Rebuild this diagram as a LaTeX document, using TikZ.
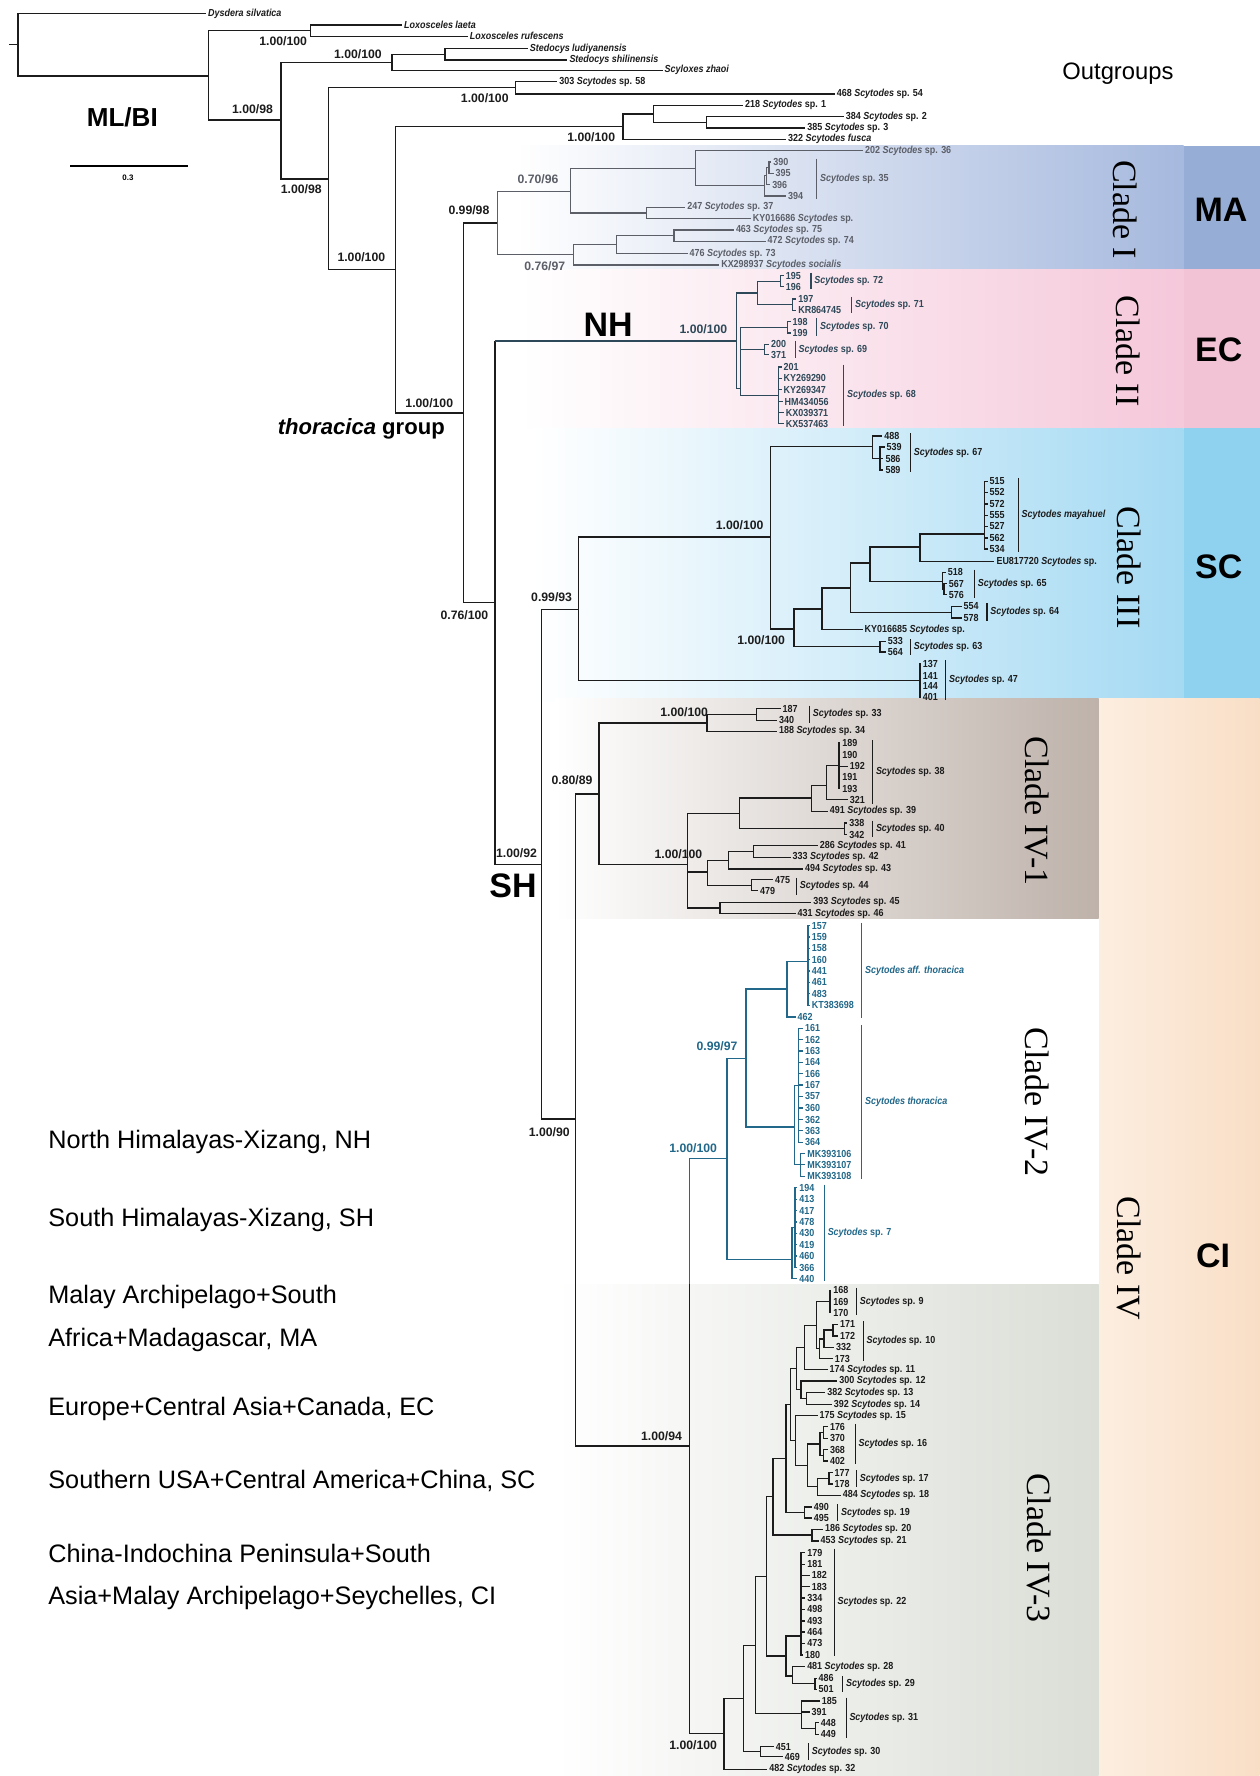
\documentclass[tikz,border=0pt]{standalone}
\usepackage{fontspec}
\setmainfont{Liberation Sans}
\newfontfamily\serifc{Liberation Serif}
\newfontfamily\condf[FakeStretch=0.88]{Liberation Sans}
\definecolor{gc}{RGB}{92,95,104}
\definecolor{sl}{RGB}{45,72,88}
\definecolor{tl}{RGB}{34,104,138}
\definecolor{bk}{RGB}{28,28,28}
\definecolor{maR}{RGB}{166,185,222}
\definecolor{maS}{RGB}{150,174,214}
\definecolor{ecR}{RGB}{245,200,218}
\definecolor{ecS}{RGB}{242,194,213}
\definecolor{scR}{RGB}{165,218,243}
\definecolor{scS}{RGB}{142,210,240}
\definecolor{ciL}{RGB}{252,238,224}
\definecolor{ciR}{RGB}{249,222,198}
\definecolor{ivA}{RGB}{190,178,170}
\definecolor{ivC}{RGB}{218,222,214}
\newcommand\Scy{\textit{Scytodes}}
\newcommand\LF[5]{\node[lf] (#1) at (#3,#4) {#5}; \draw (#2) |- (#1.west);}
\newcommand\BR[5]{\draw[brk] (#2,#3) coordinate (#1a) -- (#2,#4) coordinate (#1b) node[midway,spl] (#1) {#5};}
\tikzset{
 tln/.style={line width=1.25pt},
 lf/.style={anchor=west, inner xsep=1.8pt, inner ysep=0pt, outer sep=0pt, font=\condf\bfseries\fontsize{9}{9}\selectfont},
 spl/.style={anchor=west, inner xsep=3pt, inner ysep=0pt, outer sep=0pt, font=\condf\bfseries\fontsize{9}{9}\selectfont},
 brk/.style={line width=0.9pt},
 sup/.style={inner sep=0pt, font=\bfseries\fontsize{10.8}{11}\selectfont},
 bigl/.style={font=\bfseries\fontsize{30}{30}\selectfont},
 cladel/.style={font=\serifc\fontsize{30}{30}\selectfont, rotate=-90},
 legt/.style={anchor=west, inner sep=0pt, font=\fontsize{22.3}{24}\selectfont},
}
\begin{document}
\begin{tikzpicture}[x=1pt,y=-1pt]
\useasboundingbox (0,0) rectangle (1112,1568);
\fill[white] (0,0) rectangle (1112,1568);
% ---------- background bands
\shade[left color=white, right color=maR] (455,128.6) rectangle (1045,237.7);
\fill[maS] (1045,128.6) rectangle (1112,237.7);
\shade[left color=white, right color=ecR] (460,237.7) rectangle (1045,378);
\fill[ecS] (1045,237.7) rectangle (1112,378);
\shade[left color=white, right color=scR] (470,378) rectangle (1045,619);
\fill[scS] (1045,378) rectangle (1112,619);
\shade[left color=ciL, right color=ciR] (970,617) rectangle (1112,1568);
\shade[left color=white, right color=ivA] (490,616.3) rectangle (970,811.3);
\fill[white] (529,811.3) rectangle (970,1134);
\shade[left color=white, right color=ivC] (490,1134) rectangle (970,1568);
% ---------- right labels
\node[font=\fontsize{21}{21}\selectfont] (og) at (987,65) {Outgroups};
\node[cladel] (cI) at (993,185) {Clade I};
\node[bigl] (ma) at (1078,185) {MA};
\node[cladel] (cII) at (996,310) {Clade II};
\node[bigl] (ec) at (1076,309) {EC};
\node[cladel] (cIII) at (997,501) {Clade III};
\node[bigl] (sc) at (1076,500) {SC};
\node[cladel] (cIV1) at (916,716) {Clade IV-1};
\node[cladel] (cIV2) at (916,973) {Clade IV-2};
\node[cladel] (cIV) at (997,1111) {Clade IV};
\node[bigl] (ci) at (1071,1109) {CI};
\node[cladel] (cIV3) at (917,1367) {Clade IV-3};
% ---------- left labels
\node[font=\bfseries\fontsize{23}{23}\selectfont] (mlbi) at (108,104) {ML/BI};
\draw[line width=1.2pt] (62,146.5) coordinate (sb1) -- (165.7,146.5) coordinate (sb2);
\node[font=\bfseries\fontsize{7}{7}\selectfont] (sbt) at (113,157) {0.3};
\node[font=\bfseries\fontsize{19.5}{20}\selectfont] (thg) at (319,379) {\textit{thoracica} group};
\node[bigl] (nh) at (537,287) {NH};
\node[bigl] (sh) at (453,782) {SH};
\node[legt] (g1) at (42.5,1008.4) {North Himalayas-Xizang, NH};
\node[legt] (g2) at (42.5,1077.3) {South Himalayas-Xizang, SH};
\node[legt] (g3) at (42.5,1145) {Malay Archipelago+South};
\node[legt] (g4) at (42.5,1183.2) {Africa+Madagascar, MA};
\node[legt] (g5) at (42.5,1243.8) {Europe+Central Asia+Canada, EC};
\node[legt] (g6) at (42.5,1307.6) {Southern USA+Central America+China, SC};
\node[legt] (g7) at (42.5,1371.4) {China-Indochina Peninsula+South};
\node[legt] (g8) at (42.5,1410.6) {Asia+Malay Archipelago+Seychelles, CI};
% ---------- tree: outgroups and backbone
\begin{scope}[tln, color=bk]
\coordinate (R0) at (8,39.5);
\coordinate (R) at (16,39.5);
\draw (R0) -- (R);
\LF{dys}{R}{182}{12}{\textit{Dysdera silvatica}}
\coordinate (N1) at (184,67); \draw (R) |- (N1);
\coordinate (Lox) at (274,27); \draw (N1) |- (Lox);
\LF{llae}{Lox}{355}{22}{\textit{Loxosceles laeta}}
\LF{lruf}{Lox}{413}{32}{\textit{Loxosceles rufescens}}
\coordinate (N2) at (248,106); \draw (N1) |- (N2);
\coordinate (Sted) at (346,55); \draw (N2) |- (Sted);
\coordinate (Sted2) at (393,48); \draw (Sted) |- (Sted2);
\LF{slud}{Sted2}{466}{43}{\textit{Stedocys ludiyanensis}}
\LF{sshi}{Sted2}{501}{53}{\textit{Stedocys shilinensis}}
\LF{szha}{Sted}{585}{62}{\textit{Scyloxes zhaoi}}
\coordinate (N3) at (290,158); \draw (N2) |- (N3);
\coordinate (N4) at (455,77.5); \draw (N3) |- (N4);
\LF{l303}{N4}{492}{72}{303 \Scy{} sp. 58}
\LF{l468}{N4}{737}{83}{468 \Scy{} sp. 54}
\coordinate (N5) at (349,238); \draw (N3) |- (N5);
\coordinate (N6) at (550,111.5); \draw (N5) |- (N6);
\coordinate (N7) at (577,100.5); \draw (N6) |- (N7);
\LF{l218}{N7}{656}{93}{218 \Scy{} sp. 1}
\coordinate (N8) at (624,108); \draw (N7) |- (N8);
\LF{l384}{N8}{745}{103}{384 \Scy{} sp. 2}
\LF{l385}{N8}{711}{113}{385 \Scy{} sp. 3}
\LF{l322}{N6}{694}{123}{322 \textit{Scytodes fusca}}
\coordinate (THOR) at (409,364.5); \draw (N5) |- (THOR);
\coordinate (C1) at (439,197); \draw (THOR) |- (C1);
\coordinate (N9) at (437,532); \draw (THOR) |- (N9);
\coordinate (NHc) at (437,301); \draw (N9) -- (NHc);
\coordinate (SHn) at (478,763); \draw (N9) |- (SHn);
% supports
\node[sup] (s1) at (250,36) {1.00/100};
\node[sup] (s2) at (223,96) {1.00/98};
\node[sup] (s3) at (316,48) {1.00/100};
\node[sup] (s4) at (266,167) {1.00/98};
\node[sup] (s5) at (428,87) {1.00/100};
\node[sup] (s6) at (319,227) {1.00/100};
\node[sup] (s7) at (522,121) {1.00/100};
\node[sup] (s8) at (379,356) {1.00/100};
\node[sup] (s9) at (414,186) {0.99/98};
\node[sup] (s12) at (410,543) {0.76/100};
\node[sup] (s14) at (487,527) {0.99/93};
\node[sup] (s15) at (653,464) {1.00/100};
\node[sup] (s16) at (672,565) {1.00/100};
\node[sup] (s17) at (456,753) {1.00/92};
\node[sup] (s18) at (505,689) {0.80/89};
\node[sup] (s19) at (604,629) {1.00/100};
\node[sup] (s20) at (599,754) {1.00/100};
\node[sup] (s21) at (485,1000) {1.00/90};
\node[sup] (s22) at (584,1268) {1.00/94};
\node[sup] (s25) at (612,1541) {1.00/100};
% ---------- Clade III
\coordinate (C3) at (510.5,538); \draw (SHn) |- (C3);
\coordinate (C3a) at (680.4,474); \draw (C3) |- (C3a);
\coordinate (s67) at (770.4,394); \draw (C3a) |- (s67);
\LF{l488}{s67}{779}{384.8}{488}
\coordinate (s67b) at (777,405); \draw (s67) |- (s67b);
\LF{l539}{s67b}{781}{394.8}{539}
\LF{l586}{s67b}{780}{404.8}{586}
\LF{l589}{s67b}{780}{414.8}{589}
\BR{b67}{803.8}{382.4}{416.8}{\Scy{} sp. 67}
\coordinate (C3b) at (701,555.4); \draw (C3a) |- (C3b);
\coordinate (C3c) at (725.6,537.5); \draw (C3b) |- (C3c);
\coordinate (C3d) at (750.7,519.2); \draw (C3c) |- (C3d);
\coordinate (C3e) at (768.2,497.2); \draw (C3d) |- (C3e);
\coordinate (C3f) at (812.1,483); \draw (C3e) |- (C3f);
\coordinate (may) at (869.2,471.3); \draw (C3f) |- (may);
\foreach \n/\yy in {515/425,552/434.8,572/444.8,555/455.1,527/464.8,562/475.1,534/484.8}
  {\LF{m\n}{may}{872}{\yy}{\n}}
\BR{bmay}{899}{422}{487.7}{\textit{Scytodes mayahuel}}
\LF{leu}{C3f}{878}{495.7}{EU817720 \Scy{} sp.}
\coordinate (s65) at (831.9,513.3); \draw (C3e) |- (s65);
\LF{l518}{s65}{835}{505.4}{518}
\coordinate (s65b) at (833.5,520.3); \draw (s65) |- (s65b);
\LF{l567}{s65b}{836}{515.4}{567}
\LF{l576}{s65b}{836}{525.1}{576}
\BR{b65}{860.4}{503}{528}{\Scy{} sp. 65}
\coordinate (s64) at (839.8,540.7); \draw (C3d) |- (s64);
\LF{l554}{s64}{849}{535.4}{554}
\LF{l578}{s64}{849}{545.7}{578}
\BR{b64}{871.4}{532.5}{548}{\Scy{} sp. 64}
\LF{lky4}{C3c}{761.6}{556}{KY016685 \Scy{} sp.}
\coordinate (s63) at (777,571); \draw (C3b) |- (s63);
\LF{l533}{s63}{782}{566.3}{533}
\LF{l564}{s63}{782}{575.7}{564}
\BR{b63}{803.8}{564.2}{578}{\Scy{} sp. 63}
\coordinate (s47) at (812.1,601); \draw (C3) |- (s47);
\foreach \n/\yy in {137/586,141/596.6,144/606,401/615.7}
  {\LF{q\n}{s47}{813}{\yy}{\n}}
\BR{b47}{835}{583}{618}{\Scy{} sp. 47}
% ---------- Clade IV-1
\coordinate (C4) at (508.3,988); \draw (SHn) |- (C4);
\coordinate (C41) at (529,701); \draw (C4) |- (C41);
\coordinate (C41a) at (624.2,638.3); \draw (C41) |- (C41a);
\coordinate (s33) at (668.1,631); \draw (C41a) |- (s33);
\LF{l187}{s33}{689.2}{625.7}{187}
\LF{l340}{s33}{686}{636}{340}
\BR{b33}{714.7}{623}{638.3}{\Scy{} sp. 33}
\LF{l188}{C41a}{686}{645.7}{188 \Scy{} sp. 34}
\coordinate (C41b) at (607.1,763.3); \draw (C41) |- (C41b);
\coordinate (C41c) at (652.8,718.3); \draw (C41b) |- (C41c);
\coordinate (C41f) at (716.4,704.5); \draw (C41c) |- (C41f);
\coordinate (s38) at (729.6,693.3); \draw (C41f) |- (s38);
\coordinate (s38a) at (740.6,676); \draw (s38) |- (s38a);
\LF{l189}{s38a}{742}{656}{189}
\LF{l190}{s38a}{742}{666.3}{190}
\LF{l192}{s38a}{748.5}{676.6}{192}
\LF{l191}{s38a}{742}{686.3}{191}
\LF{l193}{s38a}{742}{696.3}{193}
\LF{l321}{s38}{748.5}{706}{321}
\BR{b38}{770.4}{653.6}{709.5}{\Scy{} sp. 38}
\LF{l491}{C41f}{730.9}{716.3}{491 \Scy{} sp. 39}
\coordinate (s40) at (745.4,731.6); \draw (C41c) |- (s40);
\LF{l338}{s40}{748}{726.6}{338}
\LF{l342}{s40}{748}{736.9}{342}
\BR{b40}{770.4}{724.5}{739.2}{\Scy{} sp. 40}
\coordinate (C41d) at (624.7,770); \draw (C41b) |- (C41d);
\coordinate (C41g) at (643.1,759.5); \draw (C41d) |- (C41g);
\coordinate (C41h) at (665,751.8); \draw (C41g) |- (C41h);
\LF{l286}{C41h}{722}{746.6}{286 \Scy{} sp. 41}
\LF{l333}{C41h}{698}{756.9}{333 \Scy{} sp. 42}
\LF{l494}{C41g}{709}{767.2}{494 \Scy{} sp. 43}
\coordinate (s44) at (663.7,781.6); \draw (C41d) |- (s44);
\LF{l475}{s44}{682.6}{776.6}{475}
\LF{l479}{s44}{669.4}{786.3}{479}
\BR{b44}{703.2}{775}{790}{\Scy{} sp. 44}
\coordinate (C41e) at (635.6,801.6); \draw (C41b) |- (C41e);
\LF{l393}{C41e}{716.4}{796.6}{393 \Scy{} sp. 45}
\LF{l431}{C41e}{702.4}{806.6}{431 \Scy{} sp. 46}
% ---------- Clade IV-3
\coordinate (C4b) at (608.7,1276.7); \draw (C4) |- (C4b);
\coordinate (C42v) at (608.7,1134); \draw (C4b) -- (C42v);
\coordinate (C43) at (639.2,1530.6); \draw (C4b) |- (C43);
\LF{l482}{C43}{677.4}{1562}{482 \Scy{} sp. 32}
\coordinate (C43a) at (656.5,1499.4); \draw (C43) |- (C43a);
\coordinate (s30) at (671.5,1546.5); \draw (C43a) |- (s30);
\LF{l451}{s30}{683.3}{1542}{451}
\LF{l469}{s30}{691.2}{1550.9}{469}
\BR{b30}{713.7}{1539}{1553.8}{\Scy{} sp. 30}
\coordinate (C43b) at (666.8,1452.6); \draw (C43a) |- (C43b);
\coordinate (s31) at (707.4,1512.9); \draw (C43b) |- (s31);
\LF{l185}{s31}{723.9}{1501.7}{185}
\LF{l391}{s31}{714.8}{1511.4}{391}
\coordinate (s31b) at (720,1526); \draw (s31) |- (s31b);
\LF{l448}{s31b}{723}{1520.9}{448}
\LF{l449}{s31b}{723}{1531.2}{449}
\BR{b31}{747}{1498.8}{1534}{\Scy{} sp. 31}
\coordinate (C43c) at (676.6,1392); \draw (C43b) |- (C43c);
\coordinate (C43e) at (693.9,1462); \draw (C43c) |- (C43e);
\coordinate (s22) at (707,1444.4); \draw (C43e) |- (s22);
\foreach \n/\xx/\yy in {179/711/1370.8,181/711/1381.1,182/715/1390.8,183/715/1400.8,334/711/1410.8,498/711/1420.8,493/711/1431.1,464/711/1440.8,473/711/1450.8,180/709/1461.1}
  {\LF{t\n}{s22}{\xx}{\yy}{\n}}
\BR{b22}{736.5}{1367.3}{1462}{\Scy{} sp. 22}
\coordinate (C43f) at (699.9,1479.7); \draw (C43e) |- (C43f);
\LF{l481}{C43f}{710.9}{1471.4}{481 \Scy{} sp. 28}
\coordinate (s29) at (719.6,1486.2); \draw (C43f) |- (s29);
\LF{l486}{s29}{721}{1481.7}{486}
\LF{l501}{s29}{721}{1491.4}{501}
\BR{b29}{744}{1479.7}{1493.8}{\Scy{} sp. 29}
\coordinate (C43d) at (682.5,1321.4); \draw (C43c) |- (C43d);
\coordinate (s2021) at (716.8,1355.2); \draw (C43d) |- (s2021);
\LF{l186}{s2021}{726.7}{1350.2}{186 \Scy{} sp. 20}
\LF{l453}{s2021}{722.7}{1360.5}{453 \Scy{} sp. 21}
\coordinate (C43g) at (693.9,1287.6); \draw (C43d) |- (C43g);
\coordinate (s19) at (710.1,1335.5); \draw (C43g) |- (s19);
\LF{l490}{s19}{716.8}{1330.5}{490}
\LF{l495}{s19}{716.8}{1340.3}{495}
\BR{b19}{739.7}{1328.2}{1342.9}{\Scy{} sp. 19}
\coordinate (C43i) at (697.9,1239.9); \draw (C43g) |- (C43i);
\coordinate (C43j) at (703,1208.2); \draw (C43i) |- (C43j);
\coordinate (N548) at (710.1,1189.6); \draw (C43j) |- (N548);
\coordinate (N575) at (720.7,1170); \draw (N548) |- (N575);
\coordinate (s9) at (732.6,1149.3); \draw (N575) |- (s9);
\LF{l168}{s9}{734}{1139.3}{168}
\LF{l169}{s9}{734}{1149.3}{169}
\LF{l170}{s9}{734}{1159}{170}
\BR{b9}{756.2}{1137}{1161.4}{\Scy{} sp. 9}
\coordinate (N582) at (723.5,1190.8); \draw (N575) |- (N582);
\coordinate (N592) at (727.4,1182); \draw (N582) |- (N592);
\coordinate (N612) at (735.3,1174.3); \draw (N592) |- (N612);
\LF{l171}{N612}{740}{1169.3}{171}
\LF{l172}{N612}{740}{1179.6}{172}
\LF{l332}{N592}{736.5}{1189.6}{332}
\LF{l173}{N582}{735.3}{1199.6}{173}
\BR{b10}{762.1}{1166.4}{1201.7}{\Scy{} sp. 10}
\LF{l174}{N548}{730.6}{1209}{174 \Scy{} sp. 11}
\coordinate (N540) at (707,1227); \draw (C43j) |- (N540);
\LF{l300}{N540}{739.3}{1219.3}{300 \Scy{} sp. 12}
\coordinate (N553) at (712,1234.6); \draw (N540) |- (N553);
\LF{l382}{N553}{728.6}{1229.6}{382 \Scy{} sp. 13}
\LF{l392}{N553}{734.5}{1240}{392 \Scy{} sp. 14}
\coordinate (C43k) at (702.2,1271.7); \draw (C43i) |- (C43k);
\LF{l175}{C43k}{721.9}{1249.6}{175 \Scy{} sp. 15}
\coordinate (N555) at (712.9,1293.8); \draw (C43k) |- (N555);
\coordinate (s16) at (723.9,1274.9); \draw (N555) |- (s16);
\coordinate (s16a) at (727,1264.7); \draw (s16) |- (s16a);
\coordinate (s16b) at (727,1284.9); \draw (s16) |- (s16b);
\LF{l176}{s16a}{731}{1259.6}{176}
\LF{l370}{s16a}{731}{1269.9}{370}
\LF{l368}{s16b}{731}{1279.9}{368}
\LF{l402}{s16b}{731}{1289.9}{402}
\BR{b16}{755}{1257}{1292.9}{\Scy{} sp. 16}
\coordinate (N578) at (721.9,1312.6); \draw (N555) |- (N578);
\coordinate (s17) at (731.8,1305.1); \draw (N578) |- (s17);
\LF{l177}{s17}{735}{1300.2}{177}
\LF{l178}{s17}{735}{1310}{178}
\BR{b17}{756.2}{1298.2}{1312.9}{\Scy{} sp. 17}
\LF{l484}{N578}{742.4}{1320.2}{484 \Scy{} sp. 18}
\end{scope}
% ---------- Clade I (grey)
\begin{scope}[line width=1.05pt, color=gc]
\coordinate (C1a) at (504,169); \draw (C1) |- (C1a);
\coordinate (C1c) at (614,149); \draw (C1a) |- (C1c);
\LF{l202}{C1c}{762}{133}{202 \Scy{} sp. 36}
\coordinate (C1e) at (675,164); \draw (C1c) |- (C1e);
\coordinate (C1f) at (677,155); \draw (C1e) |- (C1f);
\LF{l394}{C1e}{694}{173}{394}
\coordinate (C1g) at (679,148); \draw (C1f) |- (C1g);
\LF{l396}{C1f}{680}{163}{396}
\LF{l390}{C1g}{681}{143}{390}
\LF{l395}{C1g}{683}{153}{395}
\BR{b35}{721}{140}{176}{\Scy{} sp. 35}
\coordinate (C1d) at (571,188); \draw (C1a) |- (C1d);
\LF{l247}{C1d}{605}{183}{247 \Scy{} sp. 37}
\LF{lky1}{C1d}{663}{193}{KY016686 \Scy{} sp.}
\coordinate (C1b) at (506,225); \draw (C1) |- (C1b);
\coordinate (C1h) at (544,216); \draw (C1b) |- (C1h);
\LF{lkx}{C1b}{635}{234}{KX298937 \textit{Scytodes socialis}}
\coordinate (C1i) at (595,208); \draw (C1h) |- (C1i);
\LF{l476}{C1h}{607}{224}{476 \Scy{} sp. 73}
\LF{l463}{C1i}{648}{203}{463 \Scy{} sp. 75}
\LF{l472}{C1i}{676}{213}{472 \Scy{} sp. 74}
\node[sup] (s10) at (475,158) {0.70/96};
\node[sup] (s11) at (481,235) {0.76/97};
\end{scope}
% ---------- Clade II (slate)
\begin{scope}[line width=1.1pt, color=sl]
\coordinate (C2) at (650,301); \draw (NHc) -- (C2);
\node[sup] (s13) at (621,291) {1.00/100};
\coordinate (A2n) at (668.5,258.6); \draw (C2) |- (A2n);
\coordinate (A21) at (689.3,248.3); \draw (A2n) |- (A21);
\LF{l195}{A21}{692}{243.5}{195}
\LF{l196}{A21}{692}{253}{196}
\coordinate (A22) at (700,269); \draw (A2n) |- (A22);
\LF{l197}{A22}{703}{264}{197}
\LF{lkr}{A22}{703}{274}{KR864745}
\coordinate (E2) at (654,343); \draw (C2) |- (E2);
\coordinate (B2) at (695,289); \draw (E2) |- (B2);
\LF{l198}{B2}{698}{284}{198}
\LF{l199}{B2}{698}{294}{199}
\coordinate (Cc2) at (675,308.5); \draw (E2) |- (Cc2);
\LF{l200}{Cc2}{679}{304}{200}
\LF{l371}{Cc2}{679}{313}{371}
\coordinate (D2) at (687,349); \draw (E2) |- (D2);
\LF{l201}{D2}{690}{324}{201}
\LF{lkya}{D2}{690}{334}{KY269290}
\LF{lkyb}{D2}{690}{344}{KY269347}
\LF{lhm}{D2}{691}{354.5}{HM434056}
\LF{lkxa}{D2}{692}{364.5}{KX039371}
\LF{lkxb}{D2}{692}{374}{KX537463}
\BR{b72}{716}{241}{255}{\Scy{} sp. 72}
\BR{b71}{752}{262}{276}{\Scy{} sp. 71}
\BR{b70}{721}{281}{297}{\Scy{} sp. 70}
\BR{b69}{702}{301}{316}{\Scy{} sp. 69}
\BR{b68}{745}{322}{376}{\Scy{} sp. 68}
\end{scope}
% ---------- Clade IV-2 (teal)
\begin{scope}[line width=1.15pt, color=tl]
\coordinate (C42) at (641.8,1023.1); \draw (C42v) |- (C42);
\node[sup] (s23) at (612,1014) {1.00/100};
\node[sup] (s24) at (633,924) {0.99/97};
\coordinate (C42a) at (658.5,934.3); \draw (C42) |- (C42a);
\coordinate (aff) at (694.9,873.1); \draw (C42a) |- (aff);
\coordinate (affc) at (713.3,848.7); \draw (aff) |- (affc);
\foreach \n/\yy [count=\i] in {157/817.2,159/827.2,158/837.2,160/847.2,441/857.2,461/867.2,483/877.2,KT383698/887.5}
  {\LF{fa\i}{affc}{715}{\yy}{\n}}
\LF{l462}{aff}{702.4}{897.8}{462}
\BR{baff}{760.8}{814.8}{899}{\textit{Scytodes aff. thoracica}}
\coordinate (thor) at (701.5,994.9); \draw (C42a) |- (thor);
\coordinate (thorA) at (705,958.1); \draw (thor) |- (thorA);
\foreach \n/\yy in {161/907.8,162/917.8,163/927.8,164/937.8,166/947.8,167/957.8,357/967.8,360/978.1,362/988.4,363/998.1,364/1008.4}
  {\LF{h\n}{thorA}{709}{\yy}{\n}}
\coordinate (thorB) at (707,1028.4); \draw (thor) |- (thorB);
\LF{mk6}{thorB}{711}{1018.4}{MK393106}
\LF{mk7}{thorB}{711}{1028.4}{MK393107}
\LF{mk8}{thorB}{711}{1038.4}{MK393108}
\BR{bthor}{760.8}{904.9}{1040.8}{\textit{Scytodes thoracica}}
\coordinate (s7n) at (699.3,1112); \draw (C42) |- (s7n);
\coordinate (s7a) at (702,1084); \draw (s7n) |- (s7a);
\foreach \n/\yy in {194/1048.7,413/1059,417/1069,478/1079,430/1089,419/1099,460/1109,366/1119.3}
  {\LF{v\n}{s7a}{704}{\yy}{\n}}
\LF{v440}{s7n}{704}{1129}{440}
\BR{b7}{727.8}{1045.8}{1131}{\Scy{} sp. 7}
\end{scope}
\end{tikzpicture}
\end{document}
